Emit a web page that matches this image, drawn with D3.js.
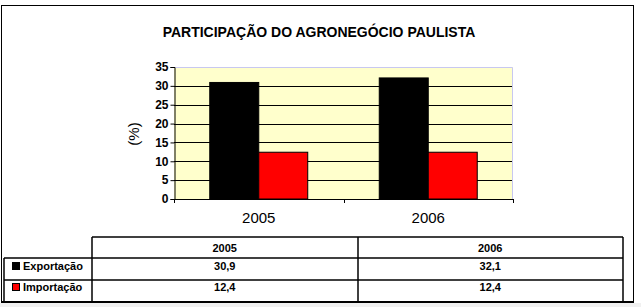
<!DOCTYPE html>
<html><head><meta charset="utf-8">
<script src="https://cdn.jsdelivr.net/npm/d3@7"></script>
<style>body{margin:0;background:#fff}svg{display:block}</style>
</head><body>
<script>
const title = "PARTICIPAÇÃO DO AGRONEGÓCIO PAULISTA";
const categories = ["2005", "2006"];
const seriesNames = ["Exportação", "Importação"];
const exportacao = [30.9, 32.1];
const importacao = [12.4, 12.4];
const yTicks = [0, 5, 10, 15, 20, 25, 30, 35];
const tableValues = [["30,9", "32,1"], ["12,4", "12,4"]];
const colors = ["#000000", "#ff0000"];

const W = 641, H = 307;
const svg = d3.select("body").append("svg").attr("width", W).attr("height", H);
svg.append("rect").attr("width", W).attr("height", H).attr("fill", "#fff");
svg.append("rect").attr("x", 0).attr("y", 303).attr("width", W).attr("height", 4).attr("fill", "#f0f0f0");

const pl = 174, pr = 513, pt = 67, pb = 199;
const x = d3.scaleBand().domain(categories).range([pl, pr]);
const y = d3.scaleLinear().domain([0, 35]).range([pb, pt]);
const xs = d3.scaleBand().domain(seriesNames).range([0, x.bandwidth()]).paddingInner(0).paddingOuter(0.73);

// plot background
svg.append("rect").attr("x", pl).attr("y", pt).attr("width", pr - pl).attr("height", pb - pt).attr("fill", "#ffffcc");
// gridlines
svg.append("g").selectAll("line").data(yTicks.filter(d => d > 0 && d < 35)).join("line")
  .attr("x1", pl).attr("x2", pr).attr("y1", d => Math.round(y(d)) + 0.5).attr("y2", d => Math.round(y(d)) + 0.5)
  .attr("stroke", "#000").attr("stroke-width", 1);
// lavender border top/right
svg.append("path").attr("d", `M${pl},${pt + 0.5}H${pr - 0.5}V${pb}`).attr("fill", "none").attr("stroke", "#c8c8f0");

const series = [exportacao, importacao];
const g = svg.append("g");
series.forEach((vals, si) => {
  g.selectAll(null).data(categories).join("rect")
    .attr("x", (c) => x(c) + xs(seriesNames[si]))
    .attr("y", (c, i) => y(vals[i]))
    .attr("width", xs.bandwidth())
    .attr("height", (c, i) => pb - y(vals[i]))
    .attr("fill", colors[si]).attr("stroke", "#000").attr("stroke-width", 1);
});

const font = "Arial, 'Liberation Sans', sans-serif";
// y axis
const yAxis = d3.axisLeft(y).tickValues(yTicks).tickSize(4).tickPadding(2);
const ya = svg.append("g").attr("transform", `translate(${pl + 0.5},0)`).call(yAxis);
ya.select(".domain").attr("stroke", "#000");
ya.selectAll("text").attr("font-family", font).attr("font-size", 12).attr("font-weight", "bold").attr("fill", "#000");
// x axis
const xa = svg.append("g").attr("transform", `translate(0,${pb + 0.5})`)
  .call(d3.axisBottom(x).tickSize(0).tickPadding(13));
xa.select(".domain").attr("stroke", "#000").attr("d", `M${pl},0H${pr}`);
xa.selectAll("text").attr("font-family", font).attr("font-size", 15).attr("fill", "#000");
svg.append("g").selectAll("line").data([pl, (pl + pr) / 2, pr]).join("line")
  .attr("x1", d => Math.round(d) + 0.5).attr("x2", d => Math.round(d) + 0.5).attr("y1", pb).attr("y2", pb + 4).attr("stroke", "#000");

// y axis title
svg.append("text").attr("transform", "translate(139,134) rotate(-90)").attr("text-anchor", "middle")
  .attr("font-family", font).attr("font-size", 15).text("(%)");

// title
svg.append("text").attr("x", 319).attr("y", 37).attr("text-anchor", "middle")
  .attr("font-family", font).attr("font-size", 14).attr("font-weight", "bold").attr("fill", "#000").text(title);

// outer frame
svg.append("rect").attr("x", 1.5).attr("y", 5.5).attr("width", 632).attr("height", 296).attr("fill", "none").attr("stroke", "#000");
svg.append("line").attr("x1", 1).attr("x2", 634).attr("y1", 302).attr("y2", 302).attr("stroke", "#000").attr("stroke-width", 2);

// data table
const tx0 = 4, tx1 = 92, tx2 = 358, tx3 = 623;
const ty0 = 237, ty1 = 258, ty2 = 280, ty3 = 301;
const colX = d3.scaleBand().domain(categories).range([tx1, tx3]);
const tbl = svg.append("g").attr("stroke", "#000").attr("stroke-width", 1.5);
tbl.append("line").attr("x1", tx1).attr("x2", tx3).attr("y1", ty0).attr("y2", ty0);
[ty1, ty2].forEach(yy => tbl.append("line").attr("x1", tx0).attr("x2", tx3).attr("y1", yy).attr("y2", yy));
tbl.append("line").attr("x1", tx0).attr("x2", tx0).attr("y1", ty1).attr("y2", ty3);
[tx1, tx2, tx3].forEach(xx => tbl.append("line").attr("x1", xx).attr("x2", xx).attr("y1", ty0).attr("y2", ty3));

svg.append("g").selectAll("text").data(categories).join("text")
  .attr("x", c => colX(c) + colX.bandwidth() / 2).attr("y", 252).attr("text-anchor", "middle")
  .attr("font-family", font).attr("font-size", 11).attr("font-weight", "bold").text(c => c);
const rowY = [270, 291];
seriesNames.forEach((name, si) => {
  svg.append("rect").attr("x", 12.5).attr("y", rowY[si] - 7.5).attr("width", 7).attr("height", 7)
    .attr("fill", colors[si]).attr("stroke", "#000");
  svg.append("text").attr("x", 23).attr("y", rowY[si]).attr("font-family", font).attr("font-size", 11)
    .attr("font-weight", "bold").text(name);
  svg.append("g").selectAll("text").data(categories).join("text")
    .attr("x", c => colX(c) + colX.bandwidth() / 2).attr("y", rowY[si]).attr("text-anchor", "middle")
    .attr("font-family", font).attr("font-size", 11).attr("font-weight", "bold")
    .text((c, i) => tableValues[si][i]);
});
</script>
</body></html>
